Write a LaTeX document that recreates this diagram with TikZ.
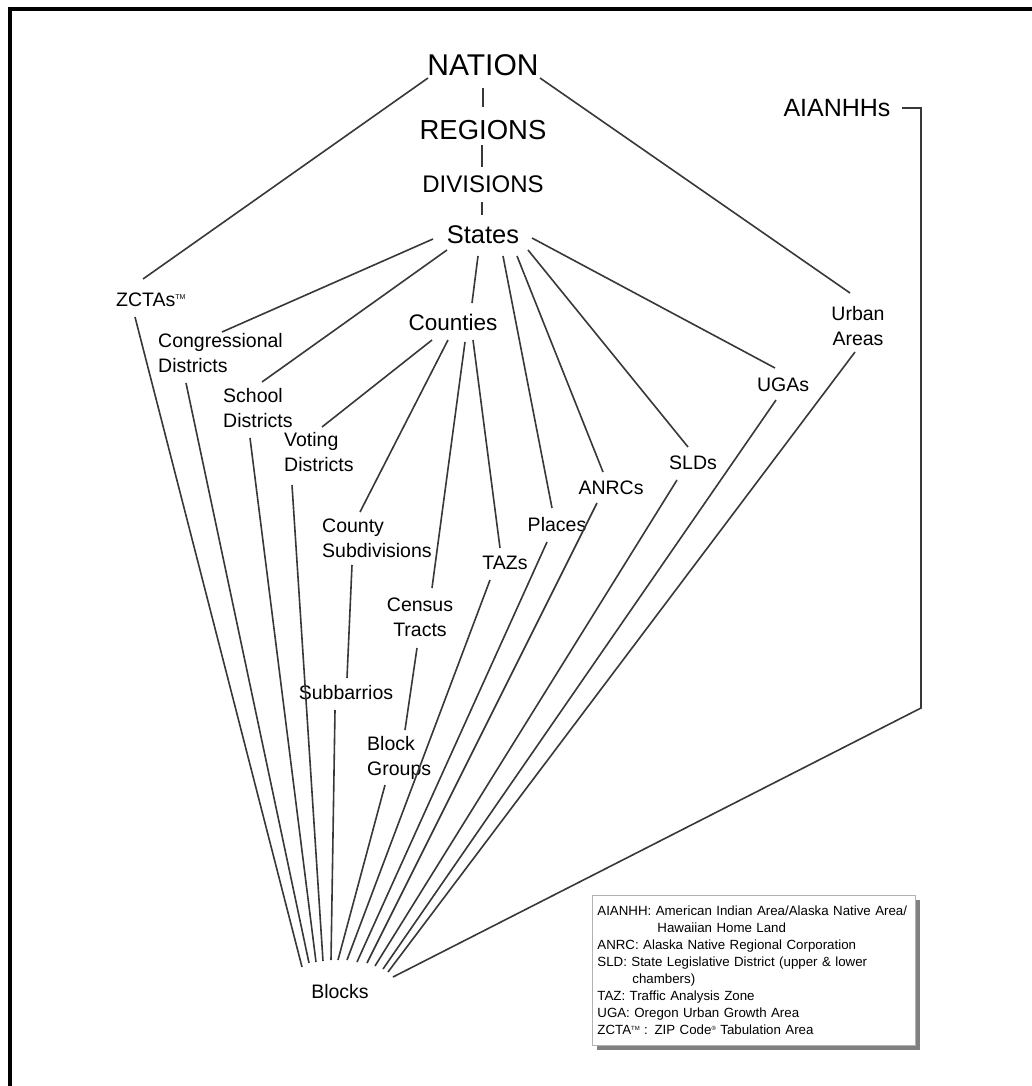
\documentclass[tikz,border=0pt]{standalone}
\usepackage{fontspec}
\setmainfont{Liberation Sans}
\usetikzlibrary{shadows}
\begin{document}
\begin{tikzpicture}[x=1pt,y=-1pt,
  lbl/.style={inner sep=0pt, font=\fontsize{19.5}{25}\selectfont},
  big/.style={inner sep=0pt},
  conn/.style={draw=black!78, line width=1.6pt},
  legendbox/.style={draw=black!30, line width=0.8pt, fill=white, anchor=north west,
    text width=313pt, minimum width=323pt, minimum height=150pt, inner xsep=5pt, inner ysep=4pt,
    align=left, font=\fontsize{13.3}{17}\selectfont,
    drop shadow={shadow xshift=5pt, shadow yshift=-5pt, fill=black!50, opacity=1}}
]
\useasboundingbox (0,0) rectangle (1032,1086);
\clip (0,0) rectangle (1032,1086);
\fill[white] (0,0) rectangle (1032,1086);
\draw[line width=4pt] (9.5,1100) -- (9.5,9.5) -- (1050,9.5);

% upper hierarchy
\node[big, font=\fontsize{30}{30}\selectfont] (nation) at (483,65) {NATION};
\node[big, font=\fontsize{27.5}{28}\selectfont] (regions) at (483,130) {REGIONS};
\node[big, font=\fontsize{24}{24}\selectfont] (divisions) at (483,184) {DIVISIONS};
\node[big, font=\fontsize{25.5}{26}\selectfont] (states) at (483,235) {States};
\node[big, font=\fontsize{25}{25}\selectfont] (aianhh) at (837,108) {AIANHHs};
\node[big, font=\fontsize{22.5}{23}\selectfont] (counties) at (453,322) {Counties};

% labels
\node[lbl, anchor=west] (zcta) at (116,300) {ZCTAs\raisebox{7pt}{\fontsize{7}{7}\selectfont TM}};
\node[lbl, anchor=west, align=left] (cong) at (158,353) {Congressional\\Districts};
\node[lbl, anchor=west, align=left] (school) at (223,408) {School\\Districts};
\node[lbl, anchor=west, align=left] (voting) at (284,452) {Voting\\Districts};
\node[lbl, anchor=west, align=left] (countysub) at (322,538) {County\\Subdivisions};
\node[lbl, align=center] (census) at (420,617) {Census\\Tracts};
\node[lbl] (subbarrios) at (346,693) {Subbarrios};
\node[lbl, anchor=west, align=left] (blockgroups) at (367,758) {Block\\Groups};
\node[lbl] (tazs) at (505,563) {TAZs};
\node[lbl] (places) at (557,525) {Places};
\node[lbl] (anrcs) at (611,488) {ANRCs};
\node[lbl] (slds) at (693,463) {SLDs};
\node[lbl] (ugas) at (783,385) {UGAs};
\node[lbl, align=center] (urban) at (858,326) {Urban\\Areas};
\node[lbl] (blocks) at (340,992) {Blocks};

\coordinate (aibend) at (921,708);

% vertical chain
\draw[conn] ([shift={(0,23)}]nation.center) -- ([shift={(0,-23)}]regions.center);
\draw[conn] ([shift={(-1,15)}]regions.center) -- ([shift={(-1,-17)}]divisions.center);
\draw[conn] ([shift={(-1,18)}]divisions.center) -- ([shift={(-1,-20)}]states.center);

% from NATION
\draw[conn] ([shift={(-55,13)}]nation.center) -- ([shift={(27,-21)}]zcta.west);
\draw[conn] ([shift={(57,13)}]nation.center) -- ([shift={(-8,-33)}]urban.center);

% from States
\draw[conn] ([shift={(-50,4)}]states.center) -- ([shift={(64,-21)}]cong.west);
\draw[conn] ([shift={(-36,15)}]states.center) -- ([shift={(39,-26)}]school.west);
\draw[conn] ([shift={(-5,21)}]states.center) -- ([shift={(19,-19)}]counties.center);
\draw[conn] ([shift={(20,21)}]states.center) -- ([shift={(-5,-17)}]places.center);
\draw[conn] ([shift={(34,21)}]states.center) -- ([shift={(-8,-16)}]anrcs.center);
\draw[conn] ([shift={(45,15)}]states.center) -- ([shift={(-5,-16)}]slds.center);
\draw[conn] ([shift={(49,3)}]states.center) -- ([shift={(-8,-17)}]ugas.center);

% from Counties
\draw[conn] ([shift={(-21,18)}]counties.center) -- ([shift={(38,-25)}]voting.west);
\draw[conn] ([shift={(-5,18)}]counties.center) -- ([shift={(38,-26)}]countysub.west);
\draw[conn] ([shift={(12,20)}]counties.center) -- ([shift={(12,-29)}]census.center);
\draw[conn] ([shift={(20,18)}]counties.center) -- ([shift={(-5,-15)}]tazs.center);

% lower chain
\draw[conn] ([shift={(30,27)}]countysub.west) -- ([shift={(1,-15)}]subbarrios.center);
\draw[conn] ([shift={(-3,31)}]census.center) -- ([shift={(38,-28)}]blockgroups.west);

% to Blocks
\draw[conn] ([shift={(19,17)}]zcta.west) -- ([shift={(-38,-25)}]blocks.center);
\draw[conn] ([shift={(28,30)}]cong.west) -- ([shift={(-31,-29)}]blocks.center);
\draw[conn] ([shift={(27,30)}]school.west) -- ([shift={(-24,-30)}]blocks.center);
\draw[conn] ([shift={(8,33)}]voting.west) -- ([shift={(-17,-31)}]blocks.center);
\draw[conn] ([shift={(-11,17)}]subbarrios.center) -- ([shift={(-9,-32)}]blocks.center);
\draw[conn] ([shift={(18,27)}]blockgroups.west) -- ([shift={(-2,-32)}]blocks.center);
\draw[conn] ([shift={(-15,17)}]tazs.center) -- ([shift={(7,-32)}]blocks.center);
\draw[conn] ([shift={(-10,17)}]places.center) -- ([shift={(17,-30)}]blocks.center);
\draw[conn] ([shift={(-14,15)}]anrcs.center) -- ([shift={(27,-29)}]blocks.center);
\draw[conn] ([shift={(-16,17)}]slds.center) -- ([shift={(35,-26)}]blocks.center);
\draw[conn] ([shift={(-7,15)}]ugas.center) -- ([shift={(43,-23)}]blocks.center);
\draw[conn] ([shift={(-3,26)}]urban.center) -- ([shift={(48,-20)}]blocks.center);
\draw[conn] ([shift={(65,0)}]aianhh.center) -| (aibend) -- ([shift={(53,-15)}]blocks.center);

% legend
\node[legendbox] (legend) at (592,895) {%
AIANHH: American Indian Area/Alaska Native Area/\\
\hspace*{60pt}Hawaiian Home Land\\
ANRC: Alaska Native Regional Corporation\\
SLD: State Legislative District (upper \& lower\\
\hspace*{35pt}chambers)\\
TAZ: Traffic Analysis Zone\\
UGA: Oregon Urban Growth Area\\
ZCTA\raisebox{4pt}{\fontsize{6}{6}\selectfont TM} : ZIP Code\raisebox{4pt}{\fontsize{6}{6}\selectfont ®} Tabulation Area};
\end{tikzpicture}
\end{document}
